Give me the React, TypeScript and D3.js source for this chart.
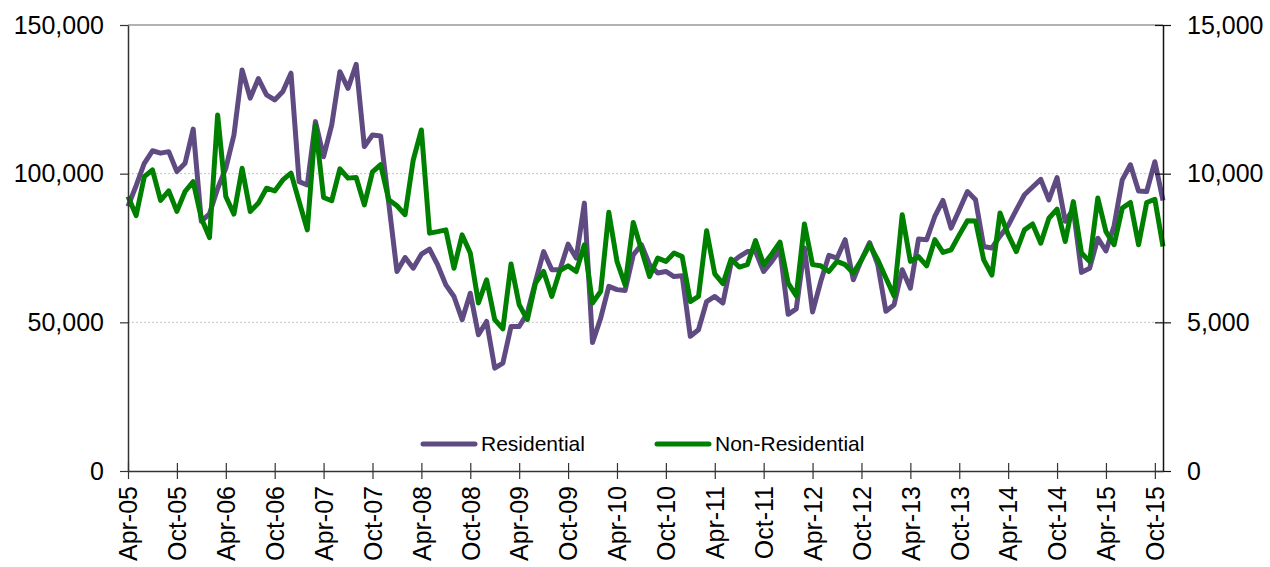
import * as d3 from 'd3';
import { useEffect, useRef } from 'react';

// monthly categories Apr-05 .. Nov-15
const months = d3
  .timeMonth.range(new Date(2005, 3, 1), new Date(2015, 11, 1))
  .map((d) => d3.timeFormat('%b-%y')(d));

const residential = [
  89000, 96000, 103500, 107700, 106900, 107400, 100700, 103500, 115000, 84000,
  86500, 95000, 101800, 113000, 134900, 125400, 132000, 126500, 124800, 127600,
  133800, 97300, 96200, 117500, 105700, 116400, 134300, 128700, 136800, 109100,
  113000, 112700, 90000, 67100, 71800, 68200, 72900, 74600, 69300, 62600,
  58700, 50900, 59800, 45800, 50300, 34600, 36300, 48600, 48600, 53100,
  63700, 73800, 67700, 67700, 76300, 71600, 90100, 43200, 51400, 62100,
  61000, 60700, 72700, 76100, 69400, 66600, 67100, 65400, 65700, 45300,
  47500, 57000, 58700, 56500, 69900, 72100, 73800, 73800, 67100, 70500,
  74400, 52700, 54500, 75000, 53500, 63700, 72500, 71600, 77800, 64300,
  71000, 76800, 69400, 53700, 55900, 67700, 61500, 78000, 77800, 85600,
  91000, 81700, 87800, 94000, 91200, 75500, 75000, 79000, 82500, 87800,
  92900, 95500, 98100, 91200, 98700, 84000, 88000, 66800, 68200, 78300,
  74000, 82500, 97900, 103000, 94200, 94000, 104000, 91000,
];

const nonResidential = [
  9230, 8590, 9900, 10130, 9100, 9420, 8730, 9400, 9730, 8500,
  7850, 11975, 9230, 8640, 10180, 8730, 9010, 9510, 9420, 9790,
  10020, 9060, 8110, 11640, 9200, 9090, 10160, 9850, 9870, 8950,
  10060, 10300, 9120, 8920, 8620, 10460, 11470, 8000, 8050, 8110,
  6820, 7940, 7330, 5650, 6430, 5090, 4780, 6960, 5590, 5090,
  6320, 6710, 5870, 6740, 6900, 6710, 7610, 5650, 6040, 8700,
  7050, 6260, 8360, 7440, 6540, 7160, 7050, 7330, 7210, 5700,
  5870, 8080, 6630, 6300, 7130, 6860, 6940, 7750, 6940, 7300,
  7700, 6320, 5890, 8310, 6940, 6900, 6710, 7050, 6940, 6660,
  7100, 7610, 7100, 6490, 5890, 8620, 7050, 7210, 6900, 7780,
  7350, 7440, 7940, 8420, 8410, 7100, 6590, 8680, 7950, 7380,
  8110, 8310, 7660, 8500, 8810, 7720, 9060, 7330, 7050, 9180,
  8050, 7610, 8840, 9030, 7610, 9030, 9140, 7550,
];

const leftTicks = [0, 50000, 100000, 150000];
const rightTicks = [0, 5000, 10000, 15000];

const PURPLE = '#5f4b82';
const GREEN = '#008000';
const FONT = '"Liberation Sans", Arial, sans-serif';

export default function App() {
  const svgRef = useRef<SVGSVGElement | null>(null);

  useEffect(() => {
    if (!svgRef.current) return;
    const svg = d3.select(svgRef.current);
    svg.selectAll('*').remove();

    const left = 128;
    const right = 1163;
    const top = 25;
    const bottom = 471;

    const x = d3.scalePoint<string>().domain(months).range([left, right]);
    const yL = d3.scaleLinear().domain([0, 150000]).range([bottom, top]);
    const yR = d3.scaleLinear().domain([0, 15000]).range([bottom, top]);

    // gridlines
    svg
      .append('g')
      .selectAll('line')
      .data(leftTicks.filter((t) => t > 0))
      .enter()
      .append('line')
      .attr('x1', left)
      .attr('x2', right)
      .attr('y1', (d) => yL(d))
      .attr('y2', (d) => yL(d))
      .attr('stroke', (d) => (d === 150000 ? '#999' : '#c4c4c4'))
      .attr('stroke-width', (d) => (d === 150000 ? 1.5 : 1))
      .attr('stroke-dasharray', (d) => (d === 150000 ? null : '2,2'));

    // series
    const lineR = d3
      .line<number>()
      .x((_, i) => x(months[i]) as number)
      .y((d) => yL(d));
    const lineN = d3
      .line<number>()
      .x((_, i) => x(months[i]) as number)
      .y((d) => yR(d));

    svg
      .append('path')
      .datum(residential)
      .attr('d', lineR)
      .attr('fill', 'none')
      .attr('stroke', PURPLE)
      .attr('stroke-width', 5)
      .attr('stroke-linejoin', 'round');

    svg
      .append('path')
      .datum(nonResidential)
      .attr('d', lineN)
      .attr('fill', 'none')
      .attr('stroke', GREEN)
      .attr('stroke-width', 5)
      .attr('stroke-linejoin', 'round');

    // left axis
    const gL = svg
      .append('g')
      .attr('transform', `translate(${left},0)`)
      .call(
        d3
          .axisLeft(yL)
          .tickValues(leftTicks)
          .tickSize(8)
          .tickSizeOuter(0)
          .tickPadding(16)
          .tickFormat((d) => d3.format(',')(d as number))
      );
    gL.select('.domain').attr('stroke', '#333').attr('stroke-width', 1.5);
    gL.selectAll('.tick line').attr('stroke', '#333').attr('stroke-width', 1.2);
    gL.selectAll('text').attr('font-size', '25px').attr('font-family', FONT).attr('fill', '#000');

    // right axis
    const gR = svg
      .append('g')
      .attr('transform', `translate(${right},0)`)
      .call(
        d3
          .axisRight(yR)
          .tickValues(rightTicks)
          .tickSize(8)
          .tickSizeOuter(0)
          .tickPadding(16)
          .tickFormat((d) => d3.format(',')(d as number))
      );
    gR.select('.domain').attr('stroke', '#111').attr('stroke-width', 1.5);
    gR.selectAll('.tick line').attr('x1', -8).attr('stroke', '#111').attr('stroke-width', 1.2);
    gR.selectAll('text').attr('font-size', '25px').attr('font-family', FONT).attr('fill', '#000');

    // bottom axis
    const gB = svg
      .append('g')
      .attr('transform', `translate(0,${bottom})`)
      .call(
        d3
          .axisBottom(x)
          .tickValues(months.filter((_, i) => i % 6 === 0))
          .tickSize(8)
          .tickSizeOuter(0)
      );
    gB.select('.domain').attr('stroke', '#333').attr('stroke-width', 1.5);
    gB.selectAll('.tick line').attr('y1', -8).attr('stroke', '#333').attr('stroke-width', 1.2);
    gB.selectAll('text')
      .attr('font-size', '25px')
      .attr('font-family', FONT)
      .attr('fill', '#000')
      .attr('transform', 'rotate(-90)')
      .attr('x', -15)
      .attr('y', 0)
      .attr('dy', '0.35em')
      .attr('text-anchor', 'end');

    // legend
    const legend = [
      { name: 'Residential', color: PURPLE, x: 423 },
      { name: 'Non-Residential', color: GREEN, x: 657 },
    ];
    const lg = svg.append('g').selectAll('g').data(legend).enter().append('g');
    lg.append('line')
      .attr('x1', (d) => d.x)
      .attr('x2', (d) => d.x + 52)
      .attr('y1', 444)
      .attr('y2', 444)
      .attr('stroke', (d) => d.color)
      .attr('stroke-width', 5)
      .attr('stroke-linecap', 'round');
    lg.append('text')
      .attr('x', (d) => d.x + 58)
      .attr('y', 444)
      .attr('dy', '0.35em')
      .attr('font-size', '21px')
      .attr('font-family', FONT)
      .attr('fill', '#000')
      .text((d) => d.name);
  }, []);

  return (
    <div style={{ position: 'fixed', left: 0, top: 0, background: '#fff' }}>
      <svg ref={svgRef} width={1270} height={567}></svg>
    </div>
  );
}
